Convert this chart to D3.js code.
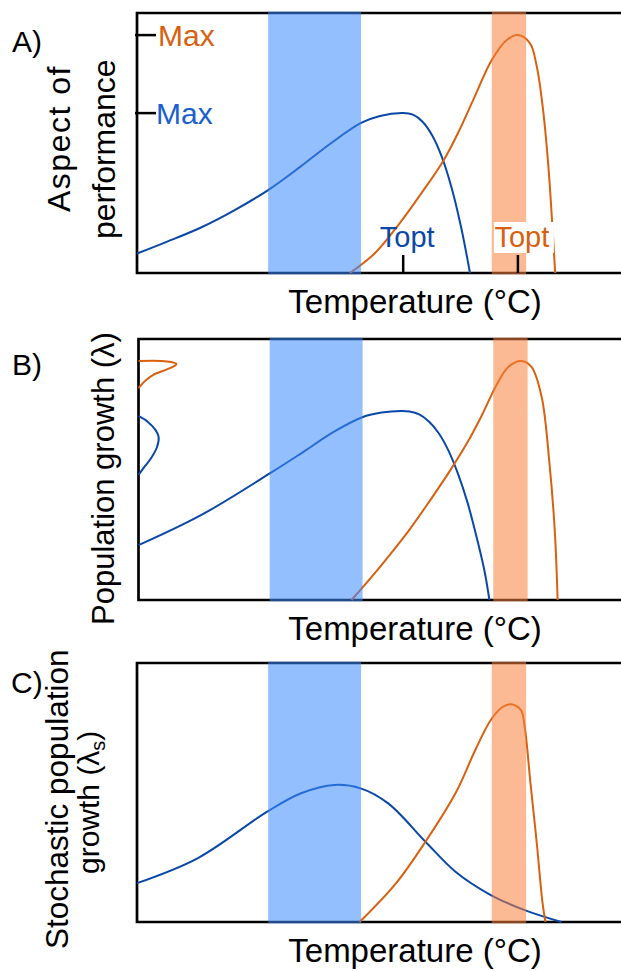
<!DOCTYPE html>
<html>
<head>
<meta charset="utf-8">
<script src="https://cdn.jsdelivr.net/npm/d3@7"></script>
<style>
    body { margin: 0; background: #fff; }
    text { font-family: "Liberation Sans", Arial, sans-serif; fill: #000; }
</style>
</head>
<body>
<div id="chart"></div>
<script>
// temperature and performance are in arbitrary units (0-100)
var TEMP_DOMAIN = [0, 100],
    VALUE_DOMAIN = [0, 100];

// A) thermal performance curves
var BLUE_A = [[0, 7.5], [6, 11.9], [13, 17.3], [20, 24], [27.1, 31.9], [33.7, 40.8], [40, 49.8],
    [46.3, 57.7], [50.2, 60.4], [55, 61.5], [57, 60.9], [59, 58.2], [61, 52.9], [63, 44.6],
    [65, 32.8], [67, 17.3], [68.8, 0]];
var ORANGE_A = [[44, 0], [49.2, 7.7], [54.3, 19.2], [58.5, 30], [63.4, 43.5], [66.5, 54.5],
    [69.4, 66.3], [73.3, 81.9], [76.4, 89.6], [78.7, 91.5], [81.2, 88.3], [82.6, 79.4],
    [83.9, 62.7], [85, 40.9], [85.7, 21.7], [86.4, 0]];

// B) population growth
var BLUE_B = [[0, 21], [13, 32.6], [27.3, 48.7], [33.7, 56.3], [40.5, 64.6], [46.5, 70.2],
    [50.2, 71.8], [54.3, 72.4], [56, 72.2], [58, 71.1], [60, 68.4], [62, 64], [64, 57.4],
    [66, 48.4], [68, 37.2], [70, 23], [71.5, 11], [72.5, 0]];
var ORANGE_B = [[44, 0], [48, 8.5], [52, 17.5], [56, 27], [60, 37.5], [64, 48.5], [68, 60.5],
    [71, 71], [74, 82.5], [76.4, 89.3], [79.1, 91.6], [81.2, 89.3], [83.3, 77.8],
    [84.9, 52.5], [86, 26.8], [86.6, 0]];
// distributions of lambda inside the bands: [density, lambda]
var BLUE_DENS = [[0, 70.5], [0.24, 68.3], [0.45, 65.1], [0.53, 62.5], [0.49, 58.7],
    [0.33, 54.3], [0.16, 51.1], [0, 47.9]];
var ORANGE_DENS = [[0, 91.6], [0.6, 91.6], [0.85, 91.2], [1, 90.4], [0.95, 89.7],
    [0.7, 88.1], [0.38, 86.2], [0.2, 84.3], [0, 81.2]];

// C) stochastic population growth
var BLUE_C = [[0, 15], [12.6, 24.7], [26.9, 42.6], [33.9, 49.7], [40.8, 52.9], [46.2, 51.6],
    [51.9, 45.8], [59.6, 31], [65.8, 19.4], [73.1, 10.4], [80.1, 4.6], [87.7, 0]];
var ORANGE_C = [[46, 0], [53.5, 14.9], [59.6, 31], [65.8, 49.7], [69.9, 66.4], [73.1, 78],
    [75.6, 83.1], [77.3, 84.1], [79.3, 81.9], [80.1, 75.4], [81.3, 53.5], [82.6, 30.4],
    [83.8, 7.2], [84.4, 0]];

// environmental temperature ranges
var BLUE_BAND = [27.1, 46.3],
    ORANGE_BAND = [73.3, 80.4];

var TOPT_BLUE = 55, TOPT_ORANGE = 78.7,
    MAX_BLUE = 61.5, MAX_ORANGE = 91.5;

var W = 621, H = 971,
    BLUE = '#0a48a8',
    ORANGE = '#d9600f';

var svg = d3.select('#chart')
    .append('svg')
    .attr('width', W)
    .attr('height', H);

function makePanel(top, bottom, left) {
    return {
        g: svg.append('g'),
        top: top,
        bottom: bottom,
        left: left,
        x: d3.scaleLinear().domain(TEMP_DOMAIN).range([left, left + 484]),
        y: d3.scaleLinear().domain(VALUE_DOMAIN).range([bottom, top])
    };
}

function drawFrame(p) {
    p.g.append('path')
        .attr('d', 'M' + (W + 10) + ',' + p.top + 'H' + p.left + 'V' + p.bottom + 'H' + (W + 10))
        .attr('fill', 'none')
        .attr('stroke', '#000')
        .attr('stroke-width', 2.7);
}

function drawCurve(p, data, color) {
    var line = d3.line()
        .x(function(d) { return p.x(d[0]); })
        .y(function(d) { return p.y(d[1]); })
        .curve(d3.curveCatmullRom.alpha(0.5));
    p.g.append('path')
        .attr('d', line(data))
        .attr('fill', 'none')
        .attr('stroke', color)
        .attr('stroke-width', 2);
}

function drawBands(p) {
    var bands = [
        {range: BLUE_BAND, fill: '#3d8bfd'},
        {range: ORANGE_BAND, fill: '#fa823c'}
    ];
    p.g.selectAll('.band')
        .data(bands)
        .enter()
        .append('rect')
        .attr('class', 'band')
        .attr('x', function(d) { return p.x(d.range[0]); })
        .attr('width', function(d) { return p.x(d.range[1]) - p.x(d.range[0]); })
        .attr('y', p.top - 1.4)
        .attr('height', p.bottom - p.top + 2.8)
        .attr('fill', function(d) { return d.fill; })
        .attr('opacity', 0.55);
}

function drawDensity(p, data, color) {
    var xd = d3.scaleLinear().domain([0, 1]).range([p.x(0), p.x(0) + 38]);
    var line = d3.line()
        .x(function(d) { return xd(d[0]); })
        .y(function(d) { return p.y(d[1]); })
        .curve(d3.curveCatmullRom);
    p.g.append('path')
        .attr('d', line(data))
        .attr('fill', 'none')
        .attr('stroke', color)
        .attr('stroke-width', 2);
}

function xLabel(p) {
    p.g.append('text')
        .attr('x', 415)
        .attr('y', p.bottom + 40)
        .attr('text-anchor', 'middle')
        .attr('font-size', 33)
        .text('Temperature (°C)');
}

// rotated label, starting (bottom end) at y0
function rotLabel(bx, y0, str, size) {
    return svg.append('text')
        .attr('transform', 'translate(' + bx + ',' + y0 + ') rotate(-90)')
        .attr('font-size', size)
        .text(str);
}

function panelLetter(x, y, str) {
    svg.append('text')
        .attr('x', x)
        .attr('y', y)
        .attr('font-size', 30)
        .text(str);
}

// ---- panel A
var pA = makePanel(13, 273, 137);
drawFrame(pA);
drawCurve(pA, BLUE_A, BLUE);
drawCurve(pA, ORANGE_A, ORANGE);
drawBands(pA);

var maxes = [
    {v: MAX_ORANGE, color: ORANGE, dx: 21},
    {v: MAX_BLUE, color: '#1a5fd0', dx: 19}
];
pA.g.selectAll('.maxtick')
    .data(maxes)
    .enter()
    .append('line')
    .attr('x1', pA.x(0) - 2)
    .attr('x2', pA.x(0) + 19)
    .attr('y1', function(d) { return pA.y(d.v); })
    .attr('y2', function(d) { return pA.y(d.v); })
    .attr('stroke', '#000')
    .attr('stroke-width', 2.5);
pA.g.selectAll('.maxlabel')
    .data(maxes)
    .enter()
    .append('text')
    .attr('x', function(d) { return pA.x(0) + d.dx; })
    .attr('y', function(d) { return pA.y(d.v); })
    .attr('dy', '0.36em')
    .attr('font-size', 30)
    .style('fill', function(d) { return d.color; })
    .text('Max');

var topts = [
    {t: TOPT_BLUE, color: BLUE, box: false},
    {t: TOPT_ORANGE, color: ORANGE, box: true}
];
pA.g.selectAll('.toptbox')
    .data(topts.filter(function(d) { return d.box; }))
    .enter()
    .append('rect')
    .attr('x', function(d) { return pA.x(d.t) - 24; })
    .attr('y', pA.bottom - 51)
    .attr('width', 60)
    .attr('height', 31)
    .attr('fill', '#fff');
pA.g.selectAll('.topttick')
    .data(topts)
    .enter()
    .append('line')
    .attr('x1', function(d) { return pA.x(d.t); })
    .attr('x2', function(d) { return pA.x(d.t); })
    .attr('y1', pA.bottom)
    .attr('y2', pA.bottom - 18)
    .attr('stroke', '#000')
    .attr('stroke-width', 2.5);
pA.g.selectAll('.toptlabel')
    .data(topts)
    .enter()
    .append('text')
    .attr('x', function(d) { return pA.x(d.t) + 4; })
    .attr('y', pA.bottom - 26)
    .attr('text-anchor', 'middle')
    .attr('font-size', 29)
    .style('fill', function(d) { return d.color; })
    .text('Topt');

xLabel(pA);
rotLabel(70, 212, 'Aspect of', 32).attr('letter-spacing', 1.5);
rotLabel(115, 239, 'performance', 32);
panelLetter(12, 52, 'A)');

// ---- panel B
var pB = makePanel(339, 600, 138.5);
drawFrame(pB);
drawCurve(pB, BLUE_B, BLUE);
drawCurve(pB, ORANGE_B, ORANGE);
drawDensity(pB, ORANGE_DENS, ORANGE);
drawDensity(pB, BLUE_DENS, BLUE);
drawBands(pB);
xLabel(pB);
rotLabel(114, 625, 'Population growth (λ)', 31);
panelLetter(12, 375, 'B)');

// ---- panel C
var pC = makePanel(663, 922, 137);
drawFrame(pC);
drawCurve(pC, BLUE_C, BLUE);
drawCurve(pC, ORANGE_C, ORANGE);
drawBands(pC);
xLabel(pC);
rotLabel(68, 949, 'Stochastic population', 31.5);
var lab2 = rotLabel(99, 874, 'growth (λ', 30);
lab2.append('tspan').attr('font-size', 20).attr('dy', 6).text('s');
lab2.append('tspan').attr('dy', -6).text(')');
panelLetter(11, 693, 'C)');
</script>
</body>
</html>
